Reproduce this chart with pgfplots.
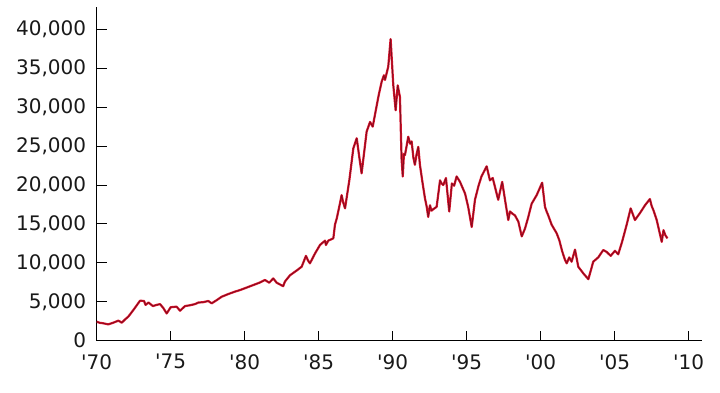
\documentclass[border=0pt]{standalone}
\usepackage{fontspec}
\setmainfont{DejaVu Sans}
\usepackage{pgfplots}
\pgfplotsset{compat=1.18}
\usepackage{pgfplotstable}
\pgfplotstableread{
year value
1970.00 2440
1970.20 2300
1970.40 2250
1970.78 2100
1971.10 2300
1971.46 2570
1971.58 2450
1971.69 2310
1971.90 2700
1972.14 3100
1972.50 4000
1972.93 5140
1973.20 5100
1973.30 4600
1973.50 4900
1973.80 4450
1974.05 4600
1974.28 4700
1974.50 4200
1974.73 3500
1975.00 4300
1975.40 4370
1975.63 3850
1975.97 4450
1976.30 4550
1976.64 4700
1976.87 4900
1977.20 4950
1977.54 5100
1977.77 4800
1978.10 5200
1978.45 5650
1978.90 6000
1979.34 6300
1979.68 6500
1980.10 6800
1980.58 7150
1981.00 7450
1981.37 7800
1981.66 7450
1981.93 8000
1982.16 7450
1982.60 7000
1982.72 7600
1983.06 8400
1983.50 9000
1983.85 9500
1984.14 10900
1984.28 10300
1984.41 9940
1984.75 11200
1985.09 12300
1985.43 12850
1985.49 12300
1985.65 12850
1985.99 13150
1986.10 14900
1986.22 15700
1986.40 17300
1986.55 18700
1986.65 17800
1986.78 17000
1987.07 20600
1987.34 24700
1987.57 26000
1987.75 23500
1987.90 21500
1988.24 26850
1988.47 28100
1988.65 27500
1988.80 29000
1989.05 31500
1989.26 33300
1989.41 34100
1989.48 33500
1989.70 35200
1989.86 38750
1990.04 32850
1990.20 29600
1990.34 32800
1990.49 31300
1990.60 23400
1990.68 21100
1990.76 24000
1990.83 23850
1990.95 25100
1991.05 26200
1991.18 25300
1991.28 25600
1991.40 23500
1991.50 22600
1991.62 24000
1991.73 24900
1991.84 22600
1992.00 20500
1992.18 18300
1992.30 17200
1992.40 15900
1992.52 17400
1992.62 16700
1992.75 16900
1992.97 17200
1993.20 20600
1993.30 20200
1993.42 20000
1993.60 20900
1993.82 16600
1994.00 20200
1994.15 19900
1994.32 21100
1994.55 20400
1994.89 18900
1995.10 17200
1995.34 14600
1995.56 18100
1995.80 19900
1996.00 21100
1996.35 22400
1996.57 20600
1996.76 20900
1997.13 18100
1997.40 20400
1997.59 18100
1997.81 15500
1997.93 16600
1998.10 16300
1998.26 16100
1998.49 15300
1998.72 13400
1998.94 14400
1999.15 15800
1999.39 17600
1999.73 18700
2000.10 20300
2000.29 17200
2000.40 16600
2000.51 16100
2000.74 14900
2001.08 13800
2001.26 12900
2001.45 11500
2001.64 10400
2001.76 9940
2001.93 10700
2002.09 10150
2002.32 11700
2002.54 9500
2002.88 8650
2003.22 7900
2003.40 9100
2003.55 10150
2003.89 10700
2004.23 11650
2004.46 11400
2004.73 10900
2005.02 11550
2005.24 11100
2005.50 12700
2005.81 14900
2006.08 17000
2006.37 15500
2006.71 16400
2007.05 17400
2007.38 18200
2007.50 17300
2007.61 16800
2007.84 15500
2008.07 13600
2008.18 12700
2008.30 14200
2008.41 13600
2008.56 13150
}\nikkei
\definecolor{redline}{RGB}{220,20,45}
\definecolor{darkline}{RGB}{130,12,30}
\begin{document}
\begin{tikzpicture}
\begin{axis}[
  scale only axis,
  width=605pt, height=333.7pt,
  at={(0,0)}, anchor=south west,
  xmin=1970, xmax=2010.88,
  ymin=0, ymax=42865,
  axis x line=bottom, axis y line=left,
  axis line style={-, line width=1.3pt, black},
  tick align=inside,
  major tick length=10pt,
  tick style={line width=0.9pt, black},
  xtick={1970,1975,1980,1985,1990,1995,2000,2005,2010},
  xticklabels={\textquotesingle 70,\textquotesingle 75,\textquotesingle 80,\textquotesingle 85,\textquotesingle 90,\textquotesingle 95,\textquotesingle 00,\textquotesingle 05,\textquotesingle 10},
  ytick={0,5000,10000,15000,20000,25000,30000,35000,40000},
  scaled y ticks=false,
  /pgf/number format/.cd, 1000 sep={,}, assume math mode=true,
  /pgfplots/.cd,
  ticklabel style={font=\fontsize{20}{24}\selectfont, text=black!90},
  xticklabel style={yshift=-10pt},
  yticklabel style={xshift=-7pt},
]
\addplot[redline, line width=2.2pt, line join=round] table[x=year,y=value]{\nikkei};
\addplot[darkline, line width=0.8pt, line join=round] table[x=year,y=value]{\nikkei};
\end{axis}
\path (-96.7pt,-52.3pt) rectangle (623.3pt,340.7pt);
\end{tikzpicture}
\end{document}
